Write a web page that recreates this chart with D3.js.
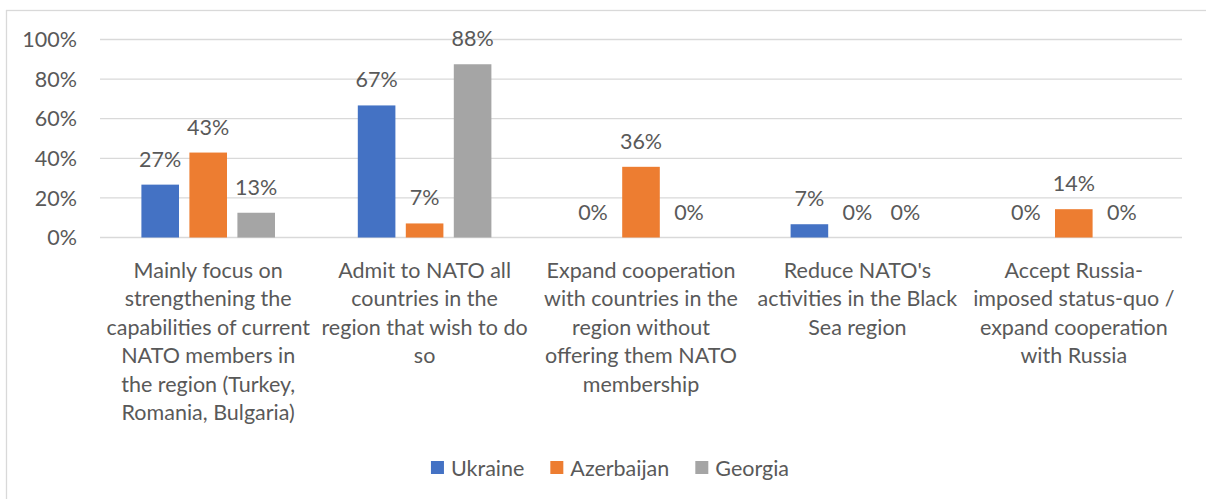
<!DOCTYPE html>
<html>
<head>
<meta charset="utf-8">
<script src="https://cdn.jsdelivr.net/npm/d3@7"></script>
<style>
  body { margin: 0; background: #fff; }
  svg text { font-family: Lato, 'Open Sans', sans-serif; fill: #595959; }
</style>
</head>
<body>
<div id="viz"></div>
<script>
const categories = [
    'Mainly focus on\nstrengthening the\ncapabilities of current\nNATO members in\nthe region (Turkey,\nRomania, Bulgaria)',
    'Admit to NATO all\ncountries in the\nregion that wish to do\nso',
    'Expand cooperation\nwith countries in the\nregion without\noffering them NATO\nmembership',
    "Reduce NATO's\nactivities in the Black\nSea region",
    'Accept Russia-\nimposed status-quo /\nexpand cooperation\nwith Russia'
];
const seriesNames = ['Ukraine', 'Azerbaijan', 'Georgia'];
const ukraine = [26.7, 66.7, 0, 6.7, 0];
const azerbaijan = [42.9, 7.1, 35.7, 0, 14.3];
const georgia = [12.5, 87.5, 0, 0, 0];
const yTicks = [0, 20, 40, 60, 80, 100];
const colors = ['#4472C4', '#ED7D31', '#A5A5A5'];

const width = 1206;
const height = 499;
const fontSize = 21.5;

let svg = d3.select('#viz')
            .append('svg')
            .attr('width', width)
            .attr('height', height);

// chart frame (runs off the right and bottom edge)
svg.append('rect')
   .attr('x', 6.5).attr('y', 10.5)
   .attr('width', 1220).attr('height', 520)
   .attr('fill', 'none')
   .attr('stroke', '#D9D9D9')
   .attr('stroke-width', 1.3);

const left = 100, right = 1182;
let yScale = d3.scaleLinear().domain([0, 100]).range([237.5, 39.5]);
let x0 = d3.scaleBand().domain(d3.range(categories.length)).range([left, right]);
const groupW = 133.6;
let x1 = d3.scaleBand().domain(seriesNames)
           .range([(x0.bandwidth() - groupW) / 2, (x0.bandwidth() + groupW) / 2])
           .paddingInner(0.2167);

// gridlines
svg.append('g')
   .selectAll('line')
   .data(yTicks)
   .enter()
   .append('line')
   .attr('x1', left).attr('x2', right)
   .attr('y1', d => yScale(d)).attr('y2', d => yScale(d))
   .attr('stroke', '#D9D9D9')
   .attr('stroke-width', 1.3);

// y labels
svg.append('g')
   .selectAll('text')
   .data(yTicks)
   .enter()
   .append('text')
   .attr('x', 77)
   .attr('y', d => yScale(d))
   .attr('dy', '0.36em')
   .attr('text-anchor', 'end')
   .style('font-size', fontSize + 'px')
   .text(d => d + '%');

const table = [ukraine, azerbaijan, georgia];
const rows = [];
categories.forEach((c, i) => {
    seriesNames.forEach((s, j) => {
        rows.push({ cat: i, series: s, idx: j, value: table[j][i] });
    });
});

svg.append('g')
   .selectAll('rect')
   .data(rows)
   .enter()
   .append('rect')
   .attr('x', d => x0(d.cat) + x1(d.series))
   .attr('y', d => yScale(d.value))
   .attr('width', x1.bandwidth())
   .attr('height', d => yScale(0) - yScale(d.value))
   .attr('fill', d => colors[d.idx]);

svg.append('g')
   .selectAll('text')
   .data(rows)
   .enter()
   .append('text')
   .attr('x', d => x0(d.cat) + x1(d.series) + x1.bandwidth() / 2)
   .attr('y', d => yScale(d.value) - 18)
   .attr('text-anchor', 'middle')
   .style('font-size', fontSize + 'px')
   .text(d => Math.round(d.value) + '%');

// category labels
let catLabels = svg.append('g')
   .selectAll('text')
   .data(categories)
   .enter()
   .append('text')
   .attr('text-anchor', 'middle')
   .style('font-size', fontSize + 'px');
catLabels.each(function(d, i) {
    let t = d3.select(this);
    d.split('\n').forEach((line, k) => {
        t.append('tspan')
         .attr('x', x0(i) + x0.bandwidth() / 2)
         .attr('y', 278 + k * 28.4)
         .text(line);
    });
});

// legend
let legend = svg.append('g');
let lx = 0;
seriesNames.forEach((s, j) => {
    legend.append('rect')
          .attr('x', lx).attr('y', 461)
          .attr('width', 13).attr('height', 13)
          .attr('fill', colors[j]);
    let txt = legend.append('text')
          .attr('x', lx + 20).attr('y', 476)
          .style('font-size', fontSize + 'px')
          .text(s);
    lx += 20 + txt.node().getComputedTextLength() + 26;
});
lx -= 26;
legend.attr('transform', 'translate(' + (610 - lx / 2) + ',0)');
</script>
</body>
</html>
